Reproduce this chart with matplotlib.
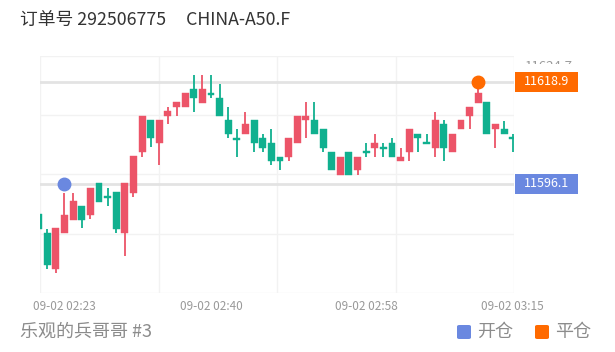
import matplotlib
matplotlib.use("Agg")
import matplotlib.pyplot as plt
from matplotlib.patches import Rectangle, FancyBboxPatch

plt.rcParams["font.family"] = ["Noto Sans CJK SC", "DejaVu Sans"]

# 1-minute candles, 09-02 02:20 .. 03:15
opens = [11589.4, 11585.2, 11577.2, 11585.2, 11588.1, 11591.2, 11589.2, 11596.3,
         11593.3, 11594.3, 11585.2, 11594.1, 11603.2, 11610.4, 11605.2, 11611.3,
         11613.3, 11613.3, 11617.3, 11614.2, 11616.2, 11615.3, 11610.4, 11606.2,
         11607.2, 11610.4, 11606.4, 11605.2, 11602.1, 11602.1, 11605.2, 11610.4,
         11610.4, 11608.4, 11603.2, 11598.1, 11603.2, 11599.2, 11603.3, 11604.1,
         11604.2, 11605.2, 11601.2, 11603.2, 11607.2, 11605.3, 11604.1, 11609.5,
         11603.2, 11608.4, 11611.3, 11614.2, 11614.4, 11608.4, 11608.4, 11606.4]
closes = [11586.1, 11578.1, 11586.3, 11589.2, 11592.3, 11588.1, 11595.2, 11592.1,
          11593.1, 11586.1, 11596.3, 11602.3, 11611.3, 11606.4, 11610.4, 11612.4,
          11614.4, 11616.4, 11615.3, 11617.3, 11616.1, 11611.3, 11607.2, 11606.1,
          11609.5, 11605.2, 11604.1, 11601.2, 11601.2, 11606.4, 11611.3, 11611.3,
          11607.2, 11604.1, 11599.2, 11602.1, 11598.1, 11602.1, 11603.2, 11605.2,
          11604.1, 11602.1, 11602.1, 11608.4, 11606.4, 11605.2, 11610.4, 11604.1,
          11607.2, 11610.4, 11613.3, 11616.4, 11607.2, 11609.5, 11607.2, 11606.3]
highs = [11589.4, 11586.1, 11586.3, 11594.1, 11594.1, 11591.2, 11595.2, 11596.3,
         11595.2, 11594.3, 11596.3, 11602.3, 11611.3, 11610.4, 11610.4, 11613.3,
         11614.4, 11616.4, 11620.4, 11620.4, 11620.4, 11618.4, 11613.3, 11608.4,
         11612.2, 11610.4, 11607.2, 11608.4, 11602.1, 11606.4, 11611.3, 11614.4,
         11614.4, 11608.4, 11603.2, 11602.1, 11603.2, 11602.1, 11605.2, 11607.2,
         11605.2, 11606.4, 11604.1, 11608.4, 11607.2, 11607.2, 11612.2, 11610.4,
         11607.2, 11610.4, 11613.3, 11617.7, 11614.4, 11609.5, 11610.1, 11607.2]
lows = [11586.1, 11577.2, 11576.3, 11585.2, 11588.1, 11586.3, 11588.3, 11592.1,
        11591.2, 11585.2, 11580.1, 11593.2, 11602.1, 11604.4, 11600.3, 11609.5,
        11611.3, 11613.3, 11612.2, 11614.2, 11615.3, 11611.3, 11606.4, 11602.1,
        11607.2, 11603.2, 11603.2, 11600.3, 11599.2, 11601.2, 11605.2, 11606.4,
        11607.2, 11603.2, 11599.2, 11598.1, 11598.1, 11598.1, 11602.1, 11602.1,
        11602.1, 11602.1, 11601.2, 11601.2, 11603.2, 11605.2, 11602.1, 11601.2,
        11603.2, 11608.4, 11608.4, 11614.2, 11607.2, 11604.1, 11607.2, 11603.2]

tick_pos = [3, 20, 38, 55]
tick_labels = ["09-02 02:23", "09-02 02:40", "09-02 02:58", "09-02 03:15"]

open_idx, open_price = 3, 11596.1
close_idx, close_price = 51, 11618.9
y_min, y_max = 11571.8, 11624.7

UP = "#ec5468"
DOWN = "#10b08f"
BLUE = "#6a88e0"
ORANGE = "#ff6a00"

fig = plt.figure(figsize=(6.15, 3.52), dpi=100)
W, H = 615, 352
ax = fig.add_axes([40 / W, 59 / H, 474 / W, (293 - 55.7) / H])
x_lo, x_hi = 0.16, 55.15
ax.set_xlim(x_lo, x_hi)
ax.set_ylim(y_min, y_max)

# grid
for i in range(5):
    y = y_min + (y_max - y_min) * i / 4
    ax.axhline(y, color="#f2f2f2", lw=1, zorder=0)
    x = x_lo + (x_hi - x_lo) * i / 4
    ax.axvline(x, color="#f2f2f2", lw=1, zorder=0)

# price lines for open / close
ax.axhline(open_price, color="#e3e3e3", lw=2, zorder=1)
ax.axhline(close_price, color="#e3e3e3", lw=2, zorder=1)

min_h = (y_max - y_min) / 237 * 1.6
for i, (o, c, h, l) in enumerate(zip(opens, closes, highs, lows)):
    col = UP if c >= o else DOWN
    ax.vlines(i, l, h, color=col, lw=1.3, zorder=2, clip_on=True)
    lo = min(o, c)
    hgt = max(abs(c - o), min_h)
    if abs(c - o) < min_h:
        lo = (o + c) / 2 - hgt / 2
    ax.add_patch(Rectangle((i - 0.4, lo), 0.8, hgt, facecolor=col,
                           edgecolor=col, lw=0.3, zorder=3, clip_on=True))

ax.plot([open_idx], [open_price], "o", color=BLUE, ms=9, zorder=5)
ax.plot([close_idx], [close_price], "o", color=ORANGE, ms=9, zorder=5)

for s in ax.spines.values():
    s.set_visible(False)
ax.set_yticks([])
ax.set_xticks(tick_pos)
ax.set_xticklabels(tick_labels, fontsize=8.5, color="#999999")
ax.tick_params(axis="x", length=0, pad=5)

# right side labels; the axis max label sits half hidden under the close tag
fig.text(525 / W, 1 - 66 / H, f"{y_max:.1f}", fontsize=9.5, color="#999999",
         ha="left", va="center", zorder=1)
fig.add_artist(Rectangle((518 / W, 1 - 72 / H), 70 / W, 7.5 / H,
                         transform=fig.transFigure, facecolor="white",
                         edgecolor="none", zorder=9))
for price, col in [(close_price, ORANGE), (open_price, BLUE)]:
    fy = ax.transData.transform((0, price))[1] / H
    fig.add_artist(Rectangle((515 / W, fy - 10 / H), 63 / W, 20 / H,
                             transform=fig.transFigure, facecolor=col,
                             edgecolor="none", zorder=10))
    fig.text(546.5 / W, fy, f"{price:.1f}", color="white", fontsize=9,
             ha="center", va="center", zorder=11)

# header / footer
fig.text(20 / W, 1 - 20 / H, "订单号 292506775     CHINA-A50.F", fontsize=12.8,
         color="#333333", va="center", ha="left")
fig.text(20 / W, 1 - 332 / H, "乐观的兵哥哥 #3", fontsize=13,
         color="#8c8c8c", va="center", ha="left")
for x0, col, lab in [(457, BLUE, "开仓"), (535, ORANGE, "平仓")]:
    fig.add_artist(FancyBboxPatch((x0 / W, 1 - 339 / H), 14 / W, 14 / H,
                                  boxstyle="round,pad=0,rounding_size=0.004",
                                  transform=fig.transFigure, facecolor=col,
                                  edgecolor="none"))
    fig.text((x0 + 20) / W, 1 - 332 / H, lab, fontsize=13, color="#8c8c8c",
             va="center", ha="left")

fig.savefig("out.png", dpi=100, facecolor="white")
